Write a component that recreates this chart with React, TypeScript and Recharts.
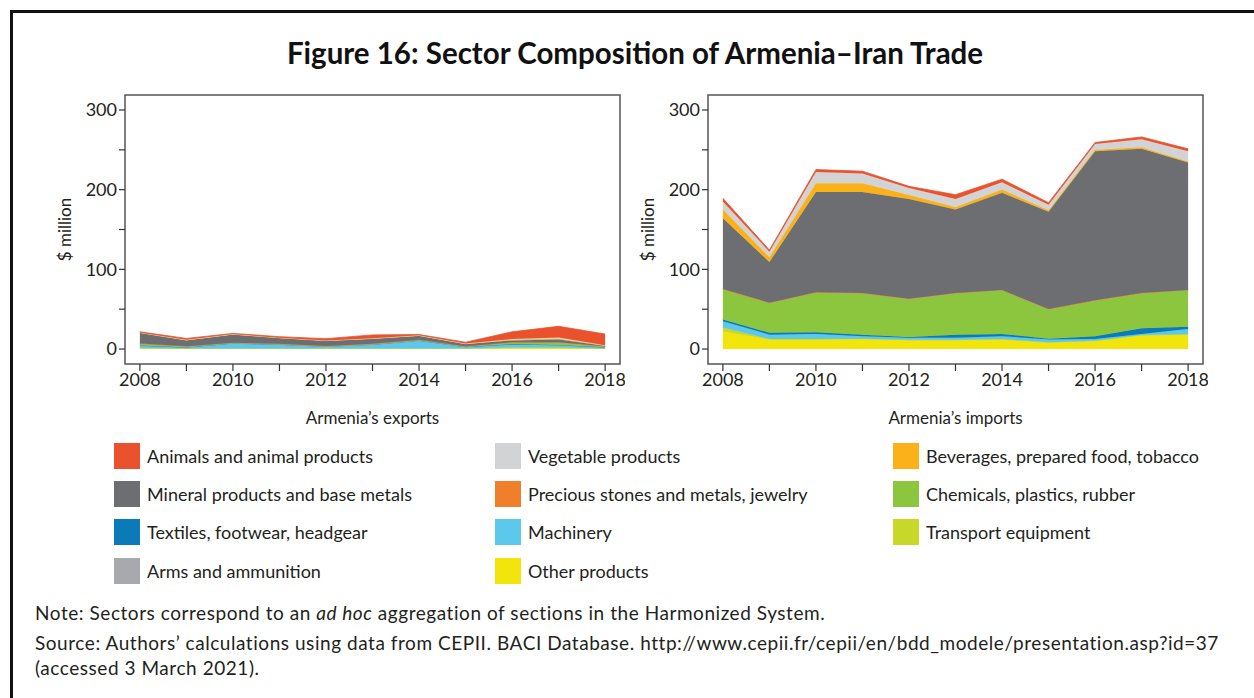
import React from "react";
import {
  Area,
  AreaChart,
  ReferenceArea,
  XAxis,
  YAxis,
} from "recharts";

const years = [2008, 2009, 2010, 2011, 2012, 2013, 2014, 2015, 2016, 2017, 2018];
const xTicks = years;
const yTicks = [0, 50, 100, 150, 200, 250, 300];

// sectors, bottom of the stack first
const sectorKeys = [
  "other",
  "transport",
  "machinery",
  "textiles",
  "chemicals",
  "arms",
  "precious",
  "mineral",
  "beverages",
  "vegetable",
  "animals",
];

const sectorNames: Record<string, string> = {
  animals: "Animals and animal products",
  vegetable: "Vegetable products",
  beverages: "Beverages, prepared food, tobacco",
  mineral: "Mineral products and base metals",
  precious: "Precious stones and metals, jewelry",
  chemicals: "Chemicals, plastics, rubber",
  textiles: "Textiles, footwear, headgear",
  machinery: "Machinery",
  transport: "Transport equipment",
  arms: "Arms and ammunition",
  other: "Other products",
};

const sectorColors: Record<string, string> = {
  animals: "#e9522c",
  vegetable: "#d1d3d4",
  beverages: "#fbb11a",
  mineral: "#6d6e72",
  precious: "#f07f2b",
  chemicals: "#8cc63f",
  textiles: "#0a7bb8",
  machinery: "#5bc8ec",
  transport: "#c8d82a",
  arms: "#a7a9ac",
  other: "#f2e50b",
};

// legend reads row by row, three columns
const legendOrder = [
  "animals", "vegetable", "beverages",
  "mineral", "precious", "chemicals",
  "textiles", "machinery", "transport",
  "arms", "other",
];

// Armenia's exports to Iran, $ million
const expOther = [1, 0.5, 0.5, 0.5, 0.5, 0.5, 0.5, 0.5, 1.5, 1.5, 0.5];
const expTransport = [0.3, 0.2, 0.2, 0.2, 0.2, 0.2, 0.2, 0.2, 0.5, 0.5, 0.2];
const expMachinery = [3, 1.5, 6.5, 5, 2.5, 5, 10, 2, 4, 3, 1.5];
const expTextiles = [0.2, 0.1, 0.1, 0.1, 0.1, 0.1, 0.1, 0.1, 0.2, 0.2, 0.1];
const expChemicals = [2, 1, 0.5, 0.5, 0.3, 0.5, 0.5, 0.5, 2, 3, 1];
const expArms = [0, 0, 0, 0, 0, 0, 0, 0, 0, 0, 0];
const expPrecious = [0.3, 0.2, 0.2, 0.2, 0.2, 0.2, 0.2, 0.2, 0.3, 0.3, 0.2];
const expMineral = [13.5, 7.5, 10.3, 7.3, 6.5, 6.4, 5.2, 2.8, 2.3, 3.5, 0.6];
const expBeverages = [0.3, 0.3, 0.3, 0.3, 0.2, 0.3, 0.3, 0.3, 0.8, 1, 0.3];
const expVegetable = [0.2, 0.2, 0.2, 0.2, 0.2, 0.2, 0.2, 0.2, 1, 1.5, 0.4];
const expAnimals = [0.8, 1.8, 0.8, 1.2, 2.3, 4.3, 1, 1.7, 9, 14, 14];

// Armenia's imports from Iran, $ million
const impOther = [22, 12, 12, 12.5, 11, 11, 12, 8, 10, 17, 18];
const impTransport = [5, 0.5, 0.5, 0.5, 0.5, 0.5, 0.5, 0.5, 0.5, 0.5, 0.5];
const impMachinery = [8, 5.5, 6.5, 3, 2.5, 2.5, 3.5, 3.5, 2, 1.5, 6.5];
const impTextiles = [2, 2.5, 2, 2, 1, 4, 3, 1, 3.5, 7, 3];
const impChemicals = [38, 37.5, 50, 52, 48, 52, 55, 37, 45, 44, 46];
const impArms = [0, 0, 0, 0, 0, 0, 0, 0, 0, 0, 0];
const impPrecious = [0.2, 0.2, 0.2, 0.2, 0.2, 0.2, 0.2, 0.2, 0.2, 0.2, 0.2];
const impMineral = [89, 51, 126, 127, 125, 105, 122, 122, 187, 181, 160];
const impBeverages = [11, 6, 11, 11, 5, 3, 4, 2, 2, 2, 1];
const impVegetable = [10, 7, 14, 12, 9, 10, 9, 7, 7, 10, 13];
const impAnimals = [4, 2, 3, 3, 2, 5.5, 4, 2.5, 2, 3, 3];

const exportSeries: Record<string, number[]> = {
  other: expOther,
  transport: expTransport,
  machinery: expMachinery,
  textiles: expTextiles,
  chemicals: expChemicals,
  arms: expArms,
  precious: expPrecious,
  mineral: expMineral,
  beverages: expBeverages,
  vegetable: expVegetable,
  animals: expAnimals,
};

const importSeries: Record<string, number[]> = {
  other: impOther,
  transport: impTransport,
  machinery: impMachinery,
  textiles: impTextiles,
  chemicals: impChemicals,
  arms: impArms,
  precious: impPrecious,
  mineral: impMineral,
  beverages: impBeverages,
  vegetable: impVegetable,
  animals: impAnimals,
};

const buildRows = (series: Record<string, number[]>) =>
  years.map((year, i) => {
    const row: any = { year };
    sectorKeys.forEach((k) => {
      row[k] = series[k][i];
    });
    return row;
  });

const exportData = buildRows(exportSeries);
const importData = buildRows(importSeries);

const X_DOMAIN: [number, number] = [2007.68, 2018.32];
const Y_DOMAIN: [number, number] = [-18.8, 318.8];
const FONT = "Lato, 'Open Sans', sans-serif";
const TEXT = "#231f20";

const TradePanel: React.FC<{ data: any[]; label: string; left: number }> = ({
  data,
  label,
  left,
}) => (
  <div style={{ position: "absolute", left, top: 80 }}>
    <AreaChart
      width={620}
      height={364}
      data={data}
      margin={{ top: 15, right: 5, bottom: 0, left: 0 }}
    >
      <XAxis
        dataKey="year"
        type="number"
        domain={X_DOMAIN}
        ticks={xTicks}
        tickFormatter={(v: number) => (v % 2 === 0 ? String(v) : "")}
        axisLine={false}
        tickLine={{ stroke: "#333", strokeWidth: 1.2 }}
        tickSize={7}
        tick={{ fontSize: 18, fill: TEXT, fontFamily: FONT }}
        height={80}
        allowDataOverflow
        label={{
          value: label,
          position: "insideBottom",
          offset: 20,
          fontSize: 17,
          fill: TEXT,
          fontFamily: FONT,
        }}
      />
      <YAxis
        type="number"
        domain={Y_DOMAIN}
        ticks={yTicks}
        tickFormatter={(v: number) => (v % 100 === 0 ? String(v) : "")}
        axisLine={false}
        tickLine={{ stroke: "#333", strokeWidth: 1.2 }}
        tickSize={6}
        tick={{ fontSize: 18, fill: TEXT, fontFamily: FONT }}
        width={120}
        allowDataOverflow
        label={{
          value: "$ million",
          angle: -90,
          position: "center",
          fontSize: 17,
          fill: TEXT,
          fontFamily: FONT,
        }}
      />
      {sectorKeys.map((k) => (
        <Area
          key={k}
          type="linear"
          dataKey={k}
          stackId="1"
          fill={sectorColors[k]}
          fillOpacity={1}
          stroke={sectorColors[k]}
          strokeWidth={0.8}
          isAnimationActive={false}
        />
      ))}
      <ReferenceArea
        x1={X_DOMAIN[0]}
        x2={X_DOMAIN[1]}
        y1={Y_DOMAIN[0]}
        y2={Y_DOMAIN[1]}
        fill="none"
        stroke="#555"
        strokeWidth={1.5}
      />
    </AreaChart>
  </div>
);

const legendColumns = [114, 495, 893];
const legendRows = [456, 494, 532, 571];

export default function App() {
  return (
    <div
      style={{
        position: "absolute",
        left: 0,
        top: 0,
        width: 1254,
        height: 698,
        overflow: "hidden",
        background: "#fff",
        fontFamily: FONT,
        color: TEXT,
      }}
    >
      <div
        style={{
          position: "absolute",
          left: 10,
          top: 10,
          width: 1260,
          height: 720,
          border: "3px solid #111",
          boxSizing: "border-box",
        }}
      />
      <div
        style={{
          position: "absolute",
          left: 0,
          width: 1270,
          top: 35,
          textAlign: "center",
          fontSize: 29.5,
          fontWeight: 700,
          color: "#111",
        }}
      >
        Figure 16: Sector Composition of Armenia–Iran Trade
      </div>

      <TradePanel data={exportData} label="Armenia’s exports" left={5} />
      <TradePanel data={importData} label="Armenia’s imports" left={588} />

      {legendOrder.map((k, i) => (
        <div
          key={k}
          style={{
            position: "absolute",
            left: legendColumns[i % 3],
            top: legendRows[Math.floor(i / 3)] - 13,
            height: 26,
            display: "flex",
            alignItems: "center",
            fontSize: 18,
            whiteSpace: "nowrap",
          }}
        >
          <span
            style={{
              display: "inline-block",
              width: 26,
              height: 26,
              background: sectorColors[k],
              marginRight: 7,
            }}
          />
          {sectorNames[k]}
        </div>
      ))}

      <div
        style={{
          position: "absolute",
          left: 35,
          top: 598,
          fontSize: 19,
          letterSpacing: 0.55,
          lineHeight: "29px",
          whiteSpace: "nowrap",
        }}
      >
        <div>
          Note: Sectors correspond to an <i>ad hoc</i> aggregation of sections in
          the Harmonized System.
        </div>
        <div style={{ marginTop: 1 }}>
          Source: Authors’ calculations using data from CEPII. BACI Database.
          http://www.cepii.fr/cepii/en/bdd_modele/presentation.asp?id=37
        </div>
        <div style={{ marginTop: -4 }}>(accessed 3 March 2021).</div>
      </div>
    </div>
  );
}
